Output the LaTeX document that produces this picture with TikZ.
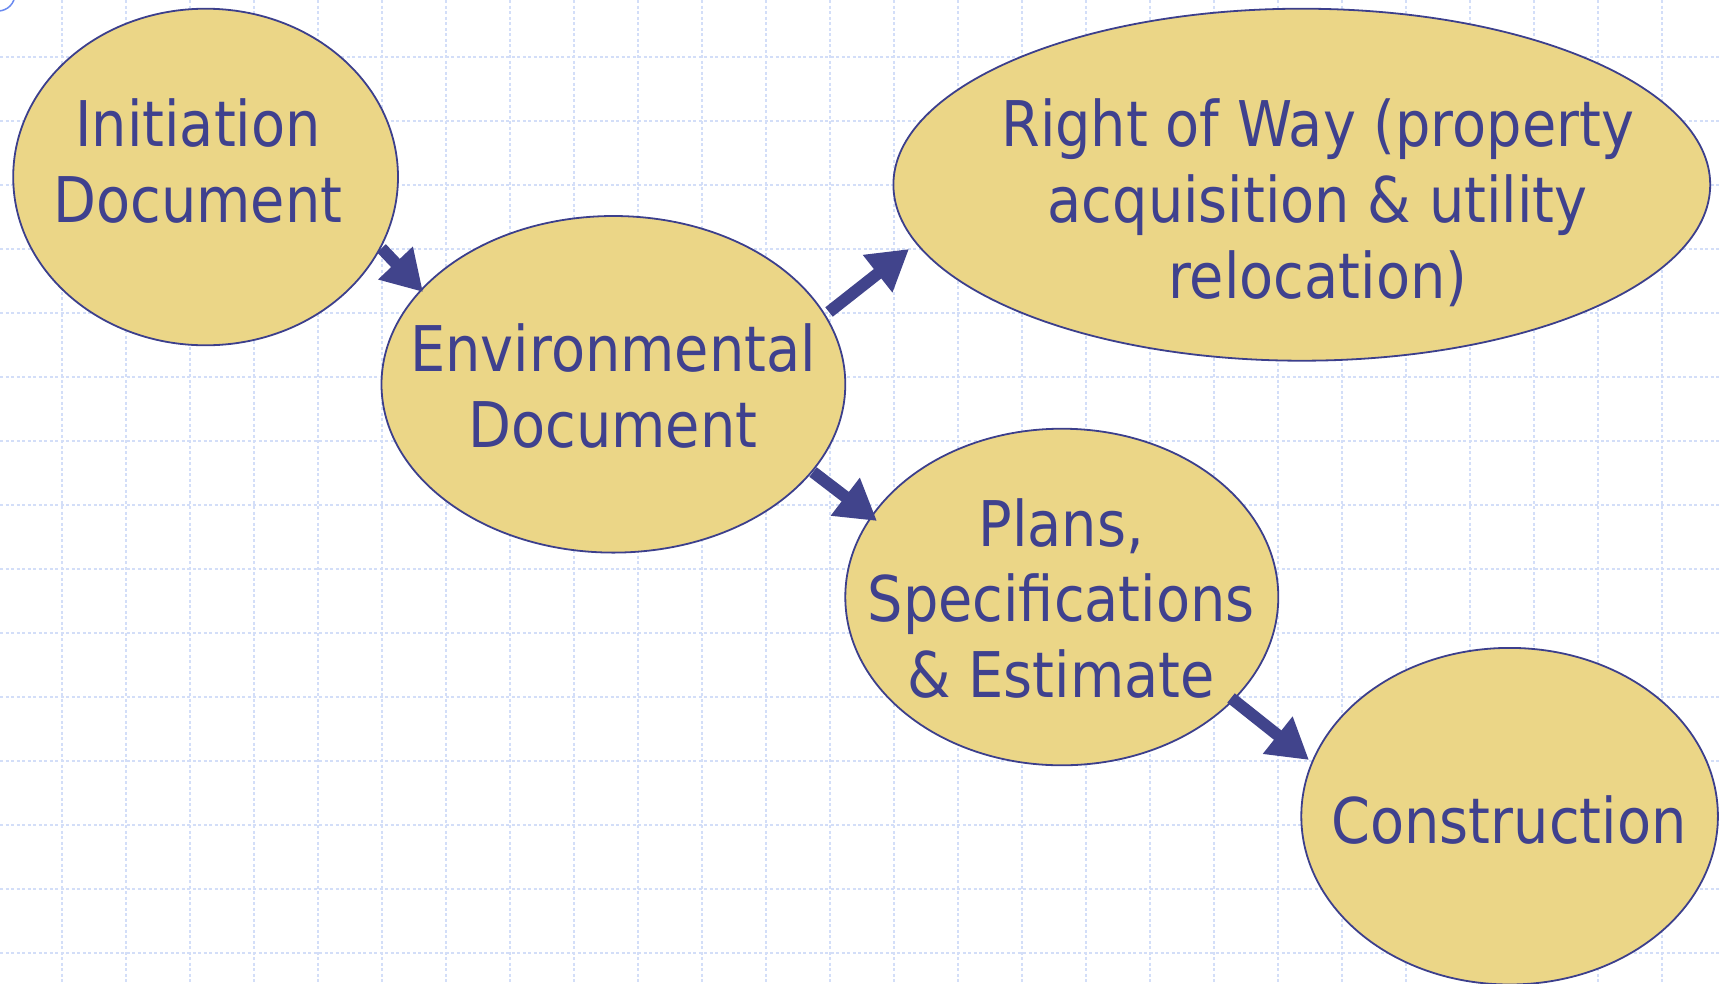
\documentclass[tikz,border=0pt]{standalone}
\usepackage{fontspec}
\setmainfont[FakeStretch=0.885]{DejaVu Sans}
\usetikzlibrary{arrows.meta,shapes.geometric}
\definecolor{ellfill}{HTML}{EBD687}
\definecolor{elldraw}{HTML}{3C3F8C}
\definecolor{txt}{HTML}{3F418E}
\definecolor{arr}{HTML}{41448C}
\definecolor{gridc}{HTML}{D3DEF8}
\definecolor{circc}{HTML}{6A8AF0}
\tikzset{
  stage/.style={shape=ellipse, draw=elldraw, fill=ellfill, line width=1.8pt, inner sep=0pt},
  lbl/.style={anchor=base, text=txt, inner sep=0pt, font=\fontsize{63}{75}\selectfont},
  flow/.style={draw=arr, line width=12pt, -{Triangle[length=40pt,width=45pt]}},
  gridline/.style={draw=gridc, line width=1.5pt, dash pattern=on 3pt off 2.5pt},
}
\begin{document}
\begin{tikzpicture}[x=1pt,y=-1pt]
\useasboundingbox (0,0) rectangle (1719,983);
% grid
\foreach \gx in {-2,62,...,1730} {\draw[gridline] (\gx,0) -- (\gx,983);}
\foreach \gy in {-7,57,...,990} {\draw[gridline] (0,\gy) -- (1719,\gy);}
\draw[circc, line width=1.5pt] (-2,-6) circle (17);
% stages
\node[stage, minimum width=384.8pt, minimum height=336.6pt] (init) at (205.6,177) {};
\node[stage, minimum width=463.8pt, minimum height=336.6pt] (env) at (613.4,384.3) {};
\node[stage, minimum width=816.8pt, minimum height=352pt] (row) at (1301.8,184.7) {};
\node[stage, minimum width=433pt, minimum height=336.6pt] (pse) at (1061.8,597) {};
\node[stage, minimum width=416.6pt, minimum height=336.6pt] (con) at (1509.6,816.2) {};
% labels
\node[lbl] (t1a) at (198,146.9) {Initiation};
\node[lbl] (t1b) at (198,222.5) {Document};
\node[lbl] (t2a) at (613,371.6) {Environmental};
\node[lbl] (t2b) at (613,447.3) {Document};
\node[lbl] (t3a) at (1317.7,146.9) {Right of Way (property};
\node[lbl] (t3b) at (1317.7,222.8) {acquisition \& utility};
\node[lbl] (t3c) at (1317.7,298.7) {relocation)};
\node[lbl] (t4a) at (1061.2,546) {Plans,};
\node[lbl] (t4b) at (1061.2,621.6) {Specifications};
\node[lbl] (t4c) at (1061.2,697.2) {\& Estimate};
\node[lbl] (t5a) at (1509,843) {Construction};
% connectors
\coordinate (a1s) at (381.5,248.3);
\coordinate (a1e) at (423,292);
\coordinate (a2s) at (829,312);
\coordinate (a2e) at (909,249);
\coordinate (a3s) at (813,472);
\coordinate (a3e) at (877,521);
\coordinate (a4s) at (1231,698);
\coordinate (a4e) at (1309,760);
\draw[flow] (a1s) -- (a1e);
\draw[flow] (a2s) -- (a2e);
\draw[flow] (a3s) -- (a3e);
\draw[flow] (a4s) -- (a4e);
\end{tikzpicture}
\end{document}
